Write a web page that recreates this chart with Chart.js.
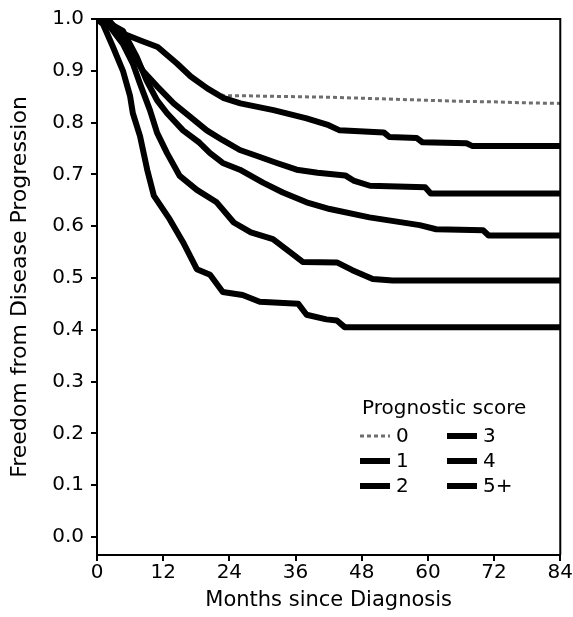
<!DOCTYPE html>
<html>
<head>
<meta charset="utf-8">
<script src="https://cdn.jsdelivr.net/npm/chart.js@4.4.1/dist/chart.umd.min.js"></script>
<style>
  html, body { margin: 0; padding: 0; background: #fff; }
  #wrap { width: 573px; height: 617px; }
</style>
</head>
<body>
<div id="wrap"><canvas id="kmchart"></canvas></div>
<script>
// prognostic score groups
const scoreLabels = ['0', '1', '2', '3', '4', '5+'];

// months since diagnosis / freedom from progression
const months0 = [0, 1, 4, 8, 11, 14.5, 17, 20, 23, 26, 30, 36, 42, 48, 54, 60, 66, 72, 78, 84];
const surv0 = [1.0, 0.995, 0.975, 0.958, 0.946, 0.914, 0.889, 0.866, 0.852, 0.852, 0.851, 0.85, 0.849, 0.847, 0.845, 0.843, 0.841, 0.84, 0.838, 0.837];

const months1 = [0, 1, 4, 8, 11, 14.5, 17, 20, 23, 26, 32, 38, 42, 44, 52, 53, 58, 59, 67, 68, 84];
const surv1 = [1.0, 0.995, 0.975, 0.958, 0.946, 0.914, 0.889, 0.866, 0.847, 0.837, 0.824, 0.808, 0.795, 0.785, 0.781, 0.772, 0.77, 0.762, 0.76, 0.755, 0.755];

const months2 = [0, 2.3, 4.7, 6.5, 8.3, 10.9, 13.9, 16.8, 19.9, 22.8, 25.9, 28.9, 32.6, 36.2, 40, 45, 46.5, 49.5, 59.5, 60.5, 84];
const surv2 = [1.0, 0.996, 0.966, 0.933, 0.9, 0.87, 0.837, 0.812, 0.785, 0.766, 0.747, 0.736, 0.722, 0.709, 0.703, 0.698, 0.688, 0.678, 0.675, 0.663, 0.663];

const months3 = [0, 2.5, 4.7, 7.2, 9.0, 10.9, 12.7, 15.6, 18.6, 20.5, 22.8, 25.9, 30.1, 33.7, 38.0, 42.2, 49.4, 58.5, 61.5, 70, 71, 84];
const surv3 = [1.0, 0.99, 0.977, 0.927, 0.881, 0.843, 0.818, 0.785, 0.761, 0.741, 0.722, 0.709, 0.684, 0.665, 0.646, 0.633, 0.617, 0.602, 0.594, 0.592, 0.582, 0.582];

const months4 = [0, 2, 4.7, 6.5, 7.8, 9.6, 10.9, 12.7, 15.0, 18.1, 21.7, 24.8, 27.9, 31.9, 35.0, 37.3, 43.5, 46.3, 50, 53.6, 84];
const surv4 = [1.0, 0.99, 0.952, 0.914, 0.875, 0.824, 0.78, 0.741, 0.697, 0.67, 0.646, 0.607, 0.588, 0.575, 0.55, 0.531, 0.53, 0.515, 0.498, 0.495, 0.495];

const months5 = [0, 1.1, 2.9, 4.7, 6.0, 6.5, 7.8, 9.1, 10.3, 13.2, 15.6, 18.1, 20.5, 22.8, 26.4, 29.5, 36.5, 38.0, 41.6, 43.5, 44.9, 84];
const surv5 = [1.0, 0.99, 0.946, 0.9, 0.851, 0.818, 0.774, 0.709, 0.659, 0.613, 0.569, 0.517, 0.506, 0.473, 0.467, 0.454, 0.45, 0.429, 0.42, 0.418, 0.405, 0.405];

const allMonths = [months0, months1, months2, months3, months4, months5];
const allSurv = [surv0, surv1, surv2, surv3, surv4, surv5];

function toPoints(xs, ys) {
  return xs.map((m, i) => ({x: m, y: ys[i]}));
}

function makeDataset(i) {
  const faint = i === 0;
  return {
    label: scoreLabels[i],
    data: toPoints(allMonths[i], allSurv[i]),
    tension: 0,
    borderColor: faint ? '#6e6e6e' : '#000',
    borderWidth: faint ? 3 : 6,
    borderDash: faint ? [4, 3] : [],
    borderJoinStyle: 'round',
    pointRadius: 0,
    fill: false,
    order: faint ? 10 : 1
  };
}

// legend drawn inside the plot, two columns of three
const scoreLegend = {
  id: 'scoreLegend',
  afterDraw(chart) {
    const ctx = chart.ctx;
    ctx.save();
    ctx.font = '20px "DejaVu Sans", sans-serif';
    ctx.fillStyle = '#000';
    ctx.textBaseline = 'middle';
    ctx.fillText('Prognostic score', 362, 409);
    chart.data.datasets.forEach((ds, i) => {
      const col = Math.floor(i / 3), row = i % 3;
      const x = 360 + col * 87, y = 436 + row * 25;
      ctx.strokeStyle = ds.borderColor;
      ctx.lineWidth = i === 0 ? 3 : 6;
      ctx.setLineDash(ds.borderDash);
      ctx.beginPath();
      ctx.moveTo(x, y);
      ctx.lineTo(x + 30, y);
      ctx.stroke();
      ctx.fillText(ds.label, x + 36, y + 1);
    });
    ctx.restore();
  }
};

// top and right edges of the box
const frame = {
  id: 'frame',
  afterDatasetsDraw(chart) {
    const {ctx, chartArea: a} = chart;
    ctx.save();
    ctx.strokeStyle = '#000';
    ctx.lineWidth = 2;
    ctx.beginPath();
    ctx.moveTo(a.left, a.top);
    ctx.lineTo(a.right, a.top);
    ctx.lineTo(a.right, a.bottom);
    ctx.stroke();
    ctx.restore();
  }
};

Chart.defaults.font.family = '"DejaVu Sans", sans-serif';
Chart.defaults.color = '#000';

new Chart(document.getElementById('kmchart'), {
  type: 'line',
  data: { datasets: scoreLabels.map((s, i) => makeDataset(i)) },
  options: {
    responsive: true,
    maintainAspectRatio: false,
    animation: false,
    layout: { padding: { top: 15, right: 11, bottom: 0, left: 0 } },
    plugins: { legend: { display: false }, tooltip: { enabled: false } },
    scales: {
      x: {
        type: 'linear',
        min: 0,
        max: 84,
        ticks: { stepSize: 12, padding: 0, font: { size: 20 } },
        grid: { drawOnChartArea: false, drawTicks: true, tickLength: 6, color: '#000', lineWidth: 2 },
        border: { display: true, color: '#000', width: 2 },
        title: { display: true, text: 'Months since Diagnosis', font: { size: 21 }, padding: { top: 4, bottom: 4 } },
        afterFit(scale) { scale.height = 62; }
      },
      y: {
        min: -0.035,
        max: 1.0,
        ticks: {
          stepSize: 0.1,
          includeBounds: false,
          padding: 7,
          font: { size: 20 },
          callback: v => v.toFixed(1)
        },
        grid: { drawOnChartArea: false, drawTicks: true, tickLength: 6, color: '#000', lineWidth: 2 },
        border: { display: true, color: '#000', width: 2 },
        title: { display: true, text: 'Freedom from Disease Progression', font: { size: 22 }, padding: { top: 7, bottom: 4 } },
        afterFit(scale) { scale.width = 97; }
      }
    }
  },
  plugins: [scoreLegend, frame]
});
</script>
</body>
</html>
